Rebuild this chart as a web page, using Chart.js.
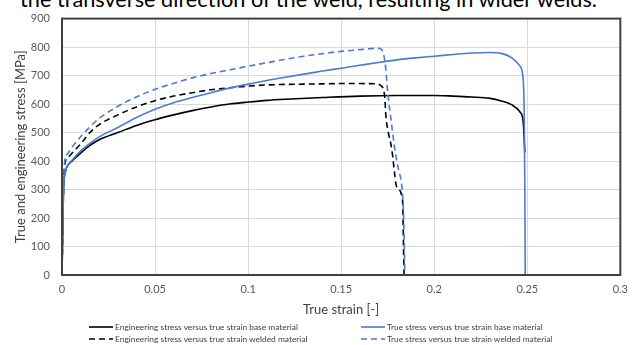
<!DOCTYPE html>
<html>
<head>
<meta charset="utf-8">
<script src="https://cdn.jsdelivr.net/npm/chart.js@4"></script>
<style>
  body { margin: 0; background: #fff; overflow: hidden; }
  #wrap { position: relative; width: 636px; height: 345px; overflow: hidden; }
  #doc { position: absolute; left: 20px; top: -11px; font: 21.7px Lato, sans-serif; color: #000; white-space: nowrap; line-height: 21.7px; }
  #chart { position: absolute; left: 0; top: 0; }
  .lg { position: absolute; font: 8.4px Lato, sans-serif; color: #404040; white-space: nowrap; display: flex; align-items: center; height: 10px; }
  .lg svg { margin-right: 2px; }
</style>
</head>
<body>
<div id="wrap">
  <div id="doc">the transverse direction of the weld, resulting in wider welds.</div>
  <canvas id="chart" width="636" height="345"></canvas>
  <div id="legend"></div>
</div>
<script>
// series labels
const seriesLabels = [
  'Engineering stress versus true strain base material',
  'True stress versus true strain base material',
  'Engineering stress versus true strain welded material',
  'True stress versus true strain welded material'
];

// axis tick labels
const xTickLabels = ['0', '0.05', '0.1', '0.15', '0.2', '0.25', '0.3'];
const yTickLabels = ['0', '100', '200', '300', '400', '500', '600', '700', '800', '900'];

// engineering stress, base material
const engBaseStrain = [0, 0.0008, 0.0018, 0.0025, 0.005, 0.01, 0.015, 0.02, 0.03, 0.04, 0.05, 0.06, 0.07, 0.08, 0.09, 0.1, 0.11, 0.12, 0.14, 0.16, 0.18, 0.2, 0.21, 0.22, 0.23, 0.236, 0.2415, 0.246, 0.2478, 0.2487];
const engBaseStress = [0, 300, 360, 378, 398, 428, 455, 475, 500, 525, 545, 562, 577, 590, 600, 607, 613, 617, 623, 628, 630, 630, 628, 625, 620, 611, 598, 573, 538, 430];

// true stress, base material
const trueBaseStrain = [0, 0.0008, 0.0018, 0.0025, 0.005, 0.01, 0.015, 0.02, 0.03, 0.04, 0.05, 0.06, 0.07, 0.08, 0.09, 0.1, 0.11, 0.12, 0.13, 0.14, 0.15, 0.16, 0.17, 0.18, 0.19, 0.2, 0.21, 0.22, 0.23, 0.236, 0.2415, 0.246, 0.2478, 0.2484, 0.2487, 0.2489];
const trueBaseStress = [0, 300, 360, 378, 400, 435, 462, 485, 518, 553, 582, 605, 623, 640, 656, 670, 683, 694, 705, 716, 726, 736, 746, 755, 762, 768, 774, 779, 781, 778, 763, 734, 688, 550, 300, 0];

// engineering stress, welded material
const engWeldStrain = [0, 0.0008, 0.0015, 0.003, 0.005, 0.01, 0.015, 0.02, 0.03, 0.04, 0.05, 0.06, 0.07, 0.08, 0.09, 0.1, 0.11, 0.12, 0.13, 0.14, 0.15, 0.16, 0.1685, 0.1722, 0.1735, 0.174, 0.1753, 0.1771, 0.18, 0.183, 0.1835, 0.1838];
const engWeldStress = [0, 300, 390, 410, 425, 460, 500, 528, 562, 590, 612, 628, 640, 650, 657, 663, 667, 669, 670, 671, 672, 672, 671, 659, 619, 561, 503, 446, 307, 261, 100, 0];

// true stress, welded material
const trueWeldStrain = [0, 0.0008, 0.0015, 0.003, 0.005, 0.01, 0.015, 0.02, 0.03, 0.04, 0.05, 0.06, 0.07, 0.08, 0.09, 0.1, 0.11, 0.12, 0.13, 0.14, 0.15, 0.16, 0.165, 0.17, 0.1715, 0.173, 0.174, 0.175, 0.1767, 0.1785, 0.1805, 0.1825, 0.183, 0.1838, 0.1842];
const trueWeldStress = [0, 300, 400, 425, 445, 485, 520, 550, 592, 625, 652, 673, 692, 707, 720, 733, 745, 757, 768, 777, 785, 791, 794, 796, 793, 769, 722, 642, 550, 457, 380, 319, 285, 150, 0];

const BLACK = '#000000';
const BLUE = '#4a7bd0';
const DASH = [6, 4];

function pts(xs, ys) {
  return xs.map((x, i) => ({ x, y: ys[i] }));
}

function series(label, xs, ys, color, dashed, order) {
  return {
    label,
    data: pts(xs, ys),
    borderColor: color,
    backgroundColor: color,
    borderWidth: 1.6,
    borderDash: dashed ? DASH : [],
    pointRadius: 0,
    cubicInterpolationMode: 'monotone',
    fill: false,
    order
  };
}

const datasets = [
  series(seriesLabels[0], engBaseStrain, engBaseStress, BLACK, false, 3),
  series(seriesLabels[1], trueBaseStrain, trueBaseStress, BLUE, false, 0),
  series(seriesLabels[2], engWeldStrain, engWeldStress, BLACK, true, 2),
  series(seriesLabels[3], trueWeldStrain, trueWeldStress, BLUE, true, 1)
];

// dark frame round the plot area
const frame = {
  id: 'frame',
  afterDatasetsDraw(c) {
    const { left, top, right, bottom } = c.chartArea;
    const ctx = c.ctx;
    ctx.save();
    ctx.strokeStyle = '#404040';
    ctx.lineWidth = 2;
    ctx.strokeRect(left, top, right - left, bottom - top);
    ctx.restore();
  }
};

const tickFont = { family: 'Lato', size: 11 };
const titleFont = { family: 'Lato', size: 13 };

const chart = new Chart(document.getElementById('chart'), {
  type: 'line',
  data: { datasets },
  options: {
    responsive: false,
    animation: false,
    layout: { padding: { top: 15, right: 15, bottom: 27, left: 0 } },
    plugins: { legend: { display: false }, tooltip: { enabled: false } },
    scales: {
      x: {
        type: 'linear',
        min: 0, max: 0.3,
        ticks: {
          stepSize: 0.05,
          color: '#595959',
          font: tickFont,
          padding: 8,
          maxRotation: 0,
          callback: (v, i) => xTickLabels[i]
        },
        grid: { color: '#d9d9d9', drawTicks: false },
        border: { display: false },
        title: { display: true, text: 'True strain [-]', color: '#404040', font: titleFont, padding: { top: 2, bottom: 0 } },
        afterFit: s => { s.height = 43; }
      },
      y: {
        min: 0, max: 900,
        ticks: {
          stepSize: 100,
          color: '#595959',
          font: tickFont,
          padding: 12,
          callback: (v, i) => yTickLabels[i]
        },
        grid: { color: '#d9d9d9', drawTicks: false },
        border: { display: false },
        title: { display: true, text: 'True and engineering stress [MPa]', color: '#404040', font: titleFont, padding: { top: 13, bottom: 4 } },
        afterFit: s => { s.width = 62; }
      }
    }
  },
  plugins: [frame]
});

// legend built from the datasets, two columns
const legendPos = [
  { left: 89, top: 322 }, { left: 361, top: 322 },
  { left: 89, top: 334 }, { left: 361, top: 334 }
];
const legend = document.getElementById('legend');
chart.data.datasets.forEach((ds, i) => {
  const d = document.createElement('div');
  d.className = 'lg';
  d.style.left = legendPos[i].left + 'px';
  d.style.top = legendPos[i].top + 'px';
  const dash = ds.borderDash.length ? `stroke-dasharray="${ds.borderDash.join(' ')}"` : '';
  d.innerHTML = `<svg width="24" height="4"><line x1="0" y1="2" x2="24" y2="2" stroke="${ds.borderColor}" stroke-width="1.6" ${dash}/></svg>${ds.label}`;
  legend.appendChild(d);
});
</script>
</body>
</html>
